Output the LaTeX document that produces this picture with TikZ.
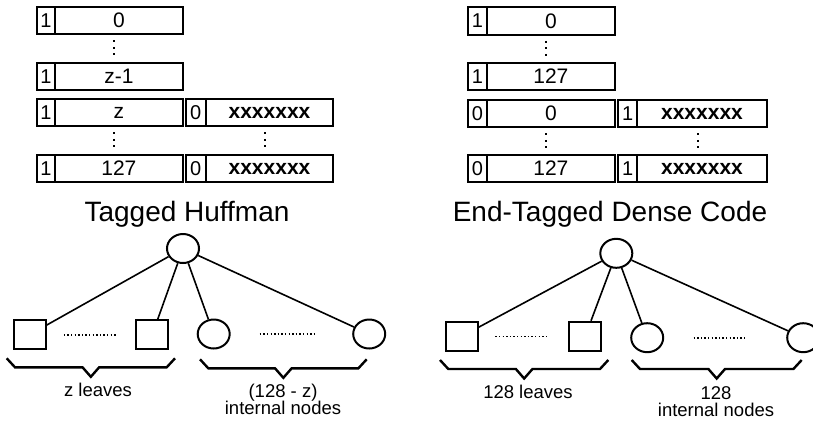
\documentclass[tikz,border=0pt]{standalone}
\usepackage{fontspec}
\setmainfont{Liberation Sans}
\usetikzlibrary{shapes.geometric}

\tikzset{
  tagbox/.style={draw, line width=2.2pt, rectangle, inner sep=0pt, minimum width=18.5pt,
    minimum height=27.5pt, font=\fontsize{20}{22}\selectfont},
  codebox/.style={draw, line width=2.2pt, rectangle, inner sep=0pt,
    minimum height=27.5pt, font=\fontsize{21}{23}\selectfont},
  gap/.style={line width=2.2pt, dash pattern=on 2pt off 4.5pt, shorten <=5pt, shorten >=4pt},
  title/.style={font=\fontsize{28}{30}\selectfont},
  caption/.style={font=\fontsize{18.5}{20}\selectfont, align=center},
  inner/.style={draw, line width=2pt, ellipse, minimum width=32pt, minimum height=29pt, inner sep=0pt},
  leaf/.style={draw, line width=2pt, rectangle, minimum width=32pt, minimum height=29pt, inner sep=0pt},
  edge/.style={line width=1.6pt},
  run/.style={line width=1.6pt, dash pattern=on 1.4pt off 2.2pt},
  brace/.style={line width=2.4pt, line join=miter}
}

% a row: tag cell at x0..x1, code cell at x1..x2, vertical centre y
\newcommand\coderow[7]{%
  \node[tagbox, minimum width={#3-#2}] (#1t) at ({(#2+#3)/2}, #5) {#6};
  \node[codebox, minimum width={#4-#3}] (#1m) at ({(#3+#4)/2}, #5) {#7};
}

% flat curly brace from xa to xb, top at y
\newcommand\flatbrace[3]{%
  \draw[brace] (#1,-#3) -- ++(8.3,-9) -- ({(#1+#2)/2-8.3},-#3-9) -- ({(#1+#2)/2},-#3-18.5)
    -- ({(#1+#2)/2+8.3},-#3-9) -- (#2-8.3,-#3-9) -- (#2,-#3);
}

\begin{document}
\begin{tikzpicture}[x=1pt, y=1pt]
\useasboundingbox (0,0) rectangle (813,-424);

%%% Tagged Huffman code words
\coderow{ha}{36.7}{55}{182.7}{-20.5}{1}{0}
\coderow{hb}{36.7}{55}{182.7}{-76.5}{1}{z-1}
\coderow{hc}{36.7}{55}{182.7}{-112.5}{1}{z}
\coderow{hd}{36.7}{55}{182.7}{-168.5}{1}{127}
\coderow{hx}{185.7}{205.7}{333.3}{-112.5}{0}{\textbf{xxxxxxx}}
\coderow{hy}{185.7}{205.7}{333.3}{-168.5}{0}{\textbf{xxxxxxx}}
\draw[gap] ([xshift=-4.5pt]ham.south) -- ([xshift=-4.5pt]hbm.north);
\draw[gap] ([xshift=-4.5pt]hcm.south) -- ([xshift=-4.5pt]hdm.north);
\draw[gap] ([xshift=-4.5pt]hxm.south) -- ([xshift=-4.5pt]hym.north);

\node[title] (htitle) at (187,-214) {Tagged Huffman};

%%% Tagged Huffman tree
\node[inner] (hroot) at (183,-248.5) {};
\node[leaf]  (hl1) at (29.5,-334.7) {};
\node[leaf]  (hl2) at (152.2,-334.7) {};
\node[inner] (hi1) at (213.7,-334) {};
\node[inner] (hi2) at (369.2,-334) {};
\draw[edge] (hroot) -- (hl1);
\draw[edge] (hroot) -- (hl2);
\draw[edge] (hroot) -- (hi1);
\draw[edge] (hroot) -- (hi2);
\draw[run, yshift=-2.6pt, shorten <=17.3pt, shorten >=18.5pt] (hl1.east) -- (hl2.west);
\draw[run, yshift=-3.3pt, shorten <=29pt, shorten >=38pt] (hi1.east) -- (hi2.west);

\flatbrace{6.7}{175}{358.3}
\flatbrace{200}{366.7}{359.3}
\node[caption] (hcapl) at (98,-390) {z leaves};
\node[caption] (hcapi) at (283,-399) {(128 - z)\\[-3pt]internal nodes};

%%% End-Tagged Dense Code code words
\coderow{ea}{468.3}{486.7}{615}{-21}{1}{0}
\coderow{eb}{468.3}{486.7}{615}{-76.5}{1}{127}
\coderow{ec}{468.3}{486.7}{615}{-113.5}{0}{0}
\coderow{ed}{468.3}{486.7}{615}{-168.5}{0}{127}
\coderow{ex}{618.3}{637.3}{766.7}{-113.5}{1}{\textbf{xxxxxxx}}
\coderow{ey}{618.3}{637.3}{766.7}{-168.5}{1}{\textbf{xxxxxxx}}
\draw[gap] ([xshift=-5pt]eam.south) -- ([xshift=-5pt]ebm.north);
\draw[gap] ([xshift=-5pt]ecm.south) -- ([xshift=-5pt]edm.north);
\draw[gap] ([xshift=-4pt]exm.south) -- ([xshift=-4pt]eym.north);

\node[title] (etitle) at (610,-214) {End-Tagged Dense Code};

%%% End-Tagged Dense Code tree
\node[inner] (eroot) at (616.3,-253.3) {};
\node[leaf]  (el1) at (461.7,-336.3) {};
\node[leaf]  (el2) at (585.2,-336.3) {};
\node[inner] (ei1) at (647.2,-337.7) {};
\node[inner] (ei2) at (803.2,-337.7) {};
\draw[edge] (eroot) -- (el1);
\draw[edge] (eroot) -- (el2);
\draw[edge] (eroot) -- (ei1);
\draw[edge] (eroot) -- (ei2);
\draw[run, yshift=-3pt, shorten <=16.7pt, shorten >=19.3pt] (el1.east) -- (el2.west);
\draw[run, yshift=-1.6pt, shorten <=29.4pt, shorten >=39pt] (ei1.east) -- (ei2.west);

\flatbrace{440}{608.3}{360}
\flatbrace{631.7}{801.7}{360}
\node[caption] (ecapl) at (528,-391.7) {128 leaves};
\node[caption] (ecapi) at (716,-402) {128\\[-3pt]internal nodes};
\end{tikzpicture}
\end{document}
